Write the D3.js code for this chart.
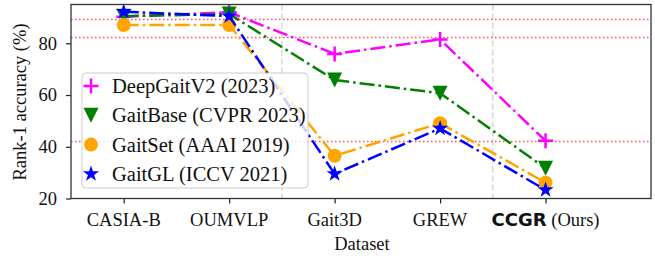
<!DOCTYPE html>
<html><head><meta charset="utf-8">
<script src="https://cdn.jsdelivr.net/npm/d3@7"></script>
<style>body{margin:0;background:#fff}svg{display:block}</style>
</head><body>
<svg id="c" width="655" height="256"></svg>
<script>
const categories = ["CASIA-B","OUMVLP","Gait3D","GREW","CCGR"];
const deepGaitV2 = [90.3, 92.0, 75.9, 81.5, 42.3];
const gaitBase   = [90.5, 91.3, 65.8, 60.7, 31.7];
const gaitSet    = [87.1, 87.1, 36.5, 49.1, 26.1];
const gaitGL     = [92.2, 90.5, 29.5, 47.1, 23.3];
const seriesNames = ["DeepGaitV2 (2023)","GaitBase (CVPR 2023)","GaitSet (AAAI 2019)","GaitGL (ICCV 2021)"];
const yTicks = [20,40,60,80];
const refLines = [89.2, 82.2, 42.0];
const sepLines = [1.5, 3.5];

const series = [
  {name: seriesNames[0], values: deepGaitV2, color:"#ff00ff", marker:"plus"},
  {name: seriesNames[1], values: gaitBase, color:"#008000", marker:"tri"},
  {name: seriesNames[2], values: gaitSet, color:"#ffa500", marker:"circle"},
  {name: seriesNames[3], values: gaitGL, color:"#0000ff", marker:"star"}
];

const svg = d3.select("#c");
const L=71, R=651, T=4.5, B=198.5;
const x = d3.scaleLinear().domain([-0.5,5]).range([L,R]);
const y = d3.scaleLinear().domain([20,95]).range([B,T]);
const serif = "Liberation Serif";

// separators
svg.append("g").selectAll("line").data(sepLines).join("line")
  .attr("x1",d=>x(d)).attr("x2",d=>x(d)).attr("y1",T).attr("y2",B)
  .attr("stroke","#d0d0d0").attr("stroke-width",1.3).attr("stroke-dasharray","6,3");
// ref lines
svg.append("g").selectAll("line").data(refLines).join("line")
  .attr("x1",L).attr("x2",R).attr("y1",d=>y(d)).attr("y2",d=>y(d))
  .attr("stroke","#ff3030").attr("stroke-opacity",0.85).attr("stroke-width",1.5).attr("stroke-dasharray","1.5,2.5");

function markerPath(type){
  if(type==="tri"){ const s=7.5; return `M${-s},${-s}L${s},${-s}L0,${s}Z`; }
  if(type==="star"){
    const Ro=8.5, Ri=Ro*0.382; let p="";
    for(let i=0;i<10;i++){ const r=i%2?Ri:Ro; const a=-Math.PI/2+i*Math.PI/5;
      p+=(i?"L":"M")+(r*Math.cos(a)).toFixed(2)+","+(r*Math.sin(a)).toFixed(2);}
    return p+"Z";
  }
  return null;
}
function drawMarker(g, type, color){
  if(type==="plus"){
    g.append("path").attr("d","M-7.5,0H7.5M0,-7.5V7.5").attr("stroke",color).attr("stroke-width",2.5).attr("fill","none");
  } else if(type==="circle"){
    g.append("circle").attr("r",7).attr("fill",color);
  } else {
    g.append("path").attr("d",markerPath(type)).attr("fill",color);
  }
}

const line = d3.line().x((d,i)=>x(i)).y(d=>y(d));
series.forEach(s=>{
  const g = svg.append("g");
  g.append("path").datum(s.values).attr("d",line).attr("fill","none")
    .attr("stroke",s.color).attr("stroke-width",2.5).attr("stroke-dasharray","15,4,2.5,4");
  s.values.forEach((v,i)=>{
    drawMarker(g.append("g").attr("transform",`translate(${x(i)},${y(v)})`), s.marker, s.color);
  });
});

// axes
const xAxis = d3.axisBottom(x).tickValues(d3.range(categories.length)).tickFormat(()=>"").tickSize(5).tickSizeOuter(0);
const gx = svg.append("g").attr("transform",`translate(0,${B})`).call(xAxis);
gx.select(".domain").remove();
gx.selectAll(".tick line").attr("stroke","#222").attr("stroke-width",1.2);
const yAxis = d3.axisLeft(y).tickValues(yTicks).tickSize(5).tickSizeOuter(0);
const gy = svg.append("g").attr("transform",`translate(${L},0)`).call(yAxis);
gy.attr("font-family",serif).attr("font-size",18.5);
gy.select(".domain").remove();
gy.selectAll(".tick line").attr("stroke","#222").attr("stroke-width",1.2);
gy.selectAll(".tick text").attr("fill","#111").attr("x",-14);

// x tick labels
categories.forEach((c,i)=>{
  const t = svg.append("text").attr("x",x(i)).attr("y",225.5).attr("text-anchor","middle")
    .attr("font-family",serif).attr("font-size",18.5).attr("fill","#111");
  if(c==="CCGR"){
    t.append("tspan").attr("font-family","DejaVu Sans").attr("font-weight","bold").attr("font-size",18).text("CCGR");
    t.append("tspan").text(" (Ours)");
  } else t.text(c);
});

// frame
svg.append("rect").attr("x",L).attr("y",T).attr("width",R-L).attr("height",B-T)
  .attr("fill","none").attr("stroke","#333").attr("stroke-width",1.3);

// labels
svg.append("text").attr("x",362).attr("y",250).attr("text-anchor","middle")
  .attr("font-family",serif).attr("font-size",18.5).attr("fill","#111").text("Dataset");
svg.append("text").attr("transform","translate(26,102) rotate(-90)").attr("text-anchor","middle")
  .attr("font-family",serif).attr("font-size",18.5).attr("fill","#111").text("Rank-1 accuracy (%)");

// legend
const lg = svg.append("g");
lg.append("rect").attr("x",82).attr("y",73).attr("width",226).attr("height",115).attr("rx",4)
  .attr("fill","#fff").attr("fill-opacity",0.8).attr("stroke","#ccc").attr("stroke-width",1);
series.forEach((s,i)=>{
  const cy = 86 + i*29.3;
  drawMarker(lg.append("g").attr("transform",`translate(91,${cy})`), s.marker, s.color);
  lg.append("text").attr("x",112).attr("y",cy+7).attr("font-family",serif).attr("font-size",20.5)
    .attr("fill","#111").text(s.name);
});
</script>
</body></html>
